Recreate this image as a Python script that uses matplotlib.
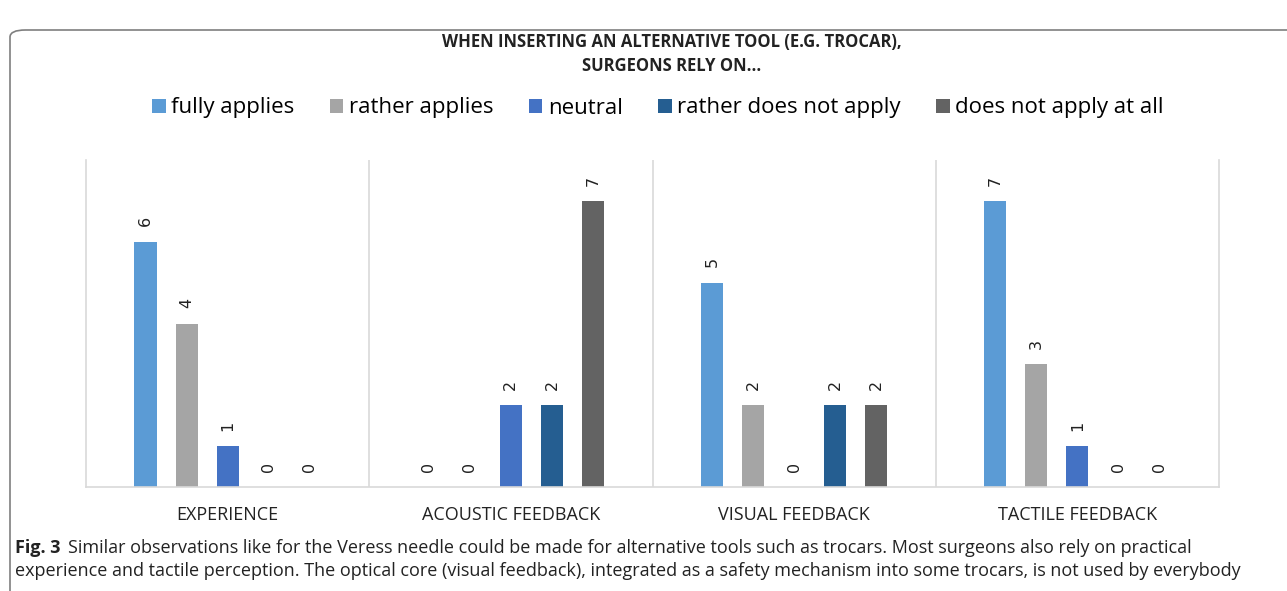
import numpy as np
import matplotlib
matplotlib.use("Agg")
import matplotlib.pyplot as plt
from matplotlib.patches import FancyBboxPatch

categories = ["EXPERIENCE", "ACOUSTIC FEEDBACK", "VISUAL FEEDBACK", "TACTILE FEEDBACK"]
series = ["fully applies", "rather applies", "neutral", "rather does not apply", "does not apply at all"]
fully_applies = [6, 0, 5, 7]
rather_applies = [4, 0, 2, 3]
neutral = [1, 2, 0, 1]
rather_not = [0, 2, 2, 0]
not_at_all = [0, 7, 2, 0]
colors = ["#5B9BD5", "#A5A5A5", "#4472C4", "#255E91", "#636363"]

values = [fully_applies, rather_applies, neutral, rather_not, not_at_all]

plt.rcParams["font.family"] = ["Open Sans", "DejaVu Sans"]

fig = plt.figure(figsize=(12.87, 5.91), dpi=100)

# rounded frame around the chart
frame = FancyBboxPatch((10 / 1287, -0.05), 1.2, (561 / 591) + 0.05,
                       boxstyle="round,pad=0,rounding_size=0.012",
                       transform=fig.transFigure, fill=False,
                       edgecolor="#7f7f7f", linewidth=1.2, clip_on=False)
fig.patches.append(frame)

ax = fig.add_axes([86 / 1287, 104 / 591, 1133 / 1287, 327 / 591])

x = np.arange(len(categories))
step = 0.145
width = 0.078
for i, (name, vals, c) in enumerate(zip(series, values, colors)):
    pos = x + (i - 2) * step
    bars = ax.bar(pos, vals, width, color=c, label=name)
    for b, v in zip(bars, vals):
        ax.annotate(str(v), (b.get_x() + b.get_width() / 2, v),
                    xytext=(0, 11), textcoords="offset points",
                    ha="center", va="bottom", rotation=90, fontsize=11.5,
                    family="DejaVu Sans", color="#222222")

ax.set_xlim(-0.5, len(categories) - 0.5)
ax.set_ylim(0, 8)
ax.set_yticks([])
ax.set_xticks(x)
ax.set_xticklabels(categories, fontsize=13)
ax.tick_params(axis="x", length=0, pad=14, colors="#222222")
for xs in x[:-1] + 0.5:
    ax.axvline(xs, color="#D9D9D9", linewidth=1.2)
ax.spines["top"].set_visible(False)
for s in ["left", "right", "bottom"]:
    ax.spines[s].set_color("#D9D9D9")
    ax.spines[s].set_linewidth(1.2)

cx = 672 / 1287
fig.text(cx, 1 - 42 / 591, "WHEN INSERTING AN ALTERNATIVE TOOL (E.G. TROCAR),",
         ha="center", va="center", fontsize=12, fontweight="bold", color="#222222")
fig.text(cx, 1 - 66 / 591, "SURGEONS RELY ON...",
         ha="center", va="center", fontsize=12, fontweight="bold", color="#222222")

fig.legend(loc="center", bbox_to_anchor=(658 / 1287, 1 - 108 / 591), ncol=5,
           frameon=False, fontsize=16, handlelength=0.6, handleheight=0.6,
           handletextpad=0.25, columnspacing=1.6)

fig_label = fig.text(15 / 1287, 1 - 548 / 591, "Fig. 3", ha="left", va="center",
                     fontsize=13, fontweight="bold", color="#222222")
fig.canvas.draw()
bb = fig_label.get_window_extent().transformed(fig.transFigure.inverted())
fig.text(bb.x1 + 8 / 1287, 1 - 548 / 591,
         "Similar observations like for the Veress needle could be made for alternative tools such as trocars. "
         "Most surgeons also rely on practical",
         ha="left", va="center", fontsize=13, color="#222222")
fig.text(15 / 1287, 1 - 571 / 591,
         "experience and tactile perception. The optical core (visual feedback), integrated as a safety "
         "mechanism into some trocars, is not used by everybody",
         ha="left", va="center", fontsize=13, color="#222222")

fig.savefig("out.png", dpi=100)
